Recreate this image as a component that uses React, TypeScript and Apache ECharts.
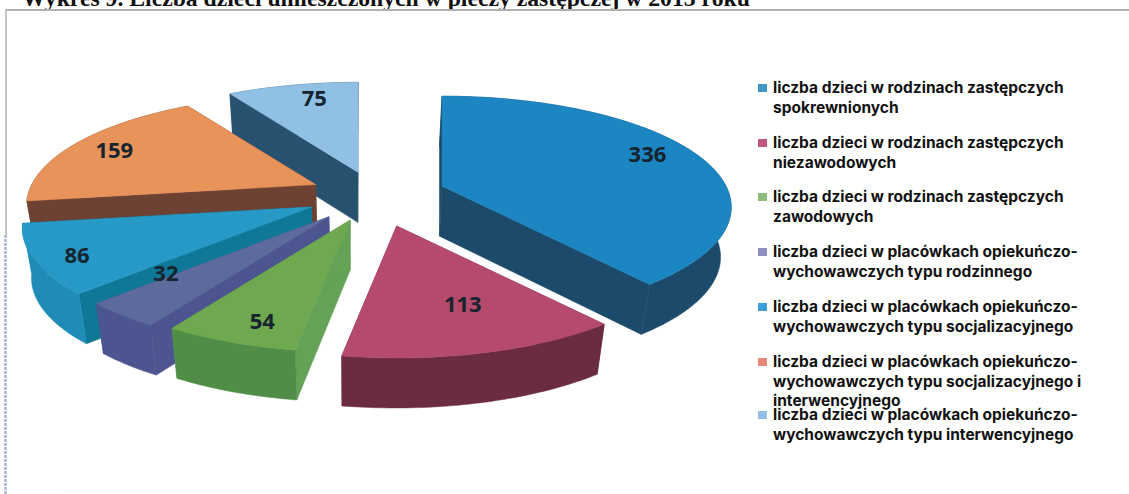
import React, { useEffect, useRef } from "react";
import * as echarts from "echarts";

const titleText = "Wykres 9. Liczba dzieci umieszczonych w pieczy zastępczej w 2013 roku";
const sliceValues = [336, 113, 54, 32, 86, 159, 75];
const sliceLabels = [
  "liczba dzieci w rodzinach zastępczych\nspokrewnionych",
  "liczba dzieci w rodzinach zastępczych\nniezawodowych",
  "liczba dzieci w rodzinach zastępczych\nzawodowych",
  "liczba dzieci w placówkach opiekuńczo-\nwychowawczych typu rodzinnego",
  "liczba dzieci w placówkach opiekuńczo-\nwychowawczych typu socjalizacyjnego",
  "liczba dzieci w placówkach opiekuńczo-\nwychowawczych typu socjalizacyjnego i\ninterwencyjnego",
  "liczba dzieci w placówkach opiekuńczo-\nwychowawczych typu interwencyjnego",
];

// styling of each slice
const topColors = ["#1c86c2", "#b64a6c", "#6fa94f", "#5d6a9c", "#2799c6", "#e8935a", "#90c1e4"];
const sideColors = ["#1c4a6b", "#6b2c40", "#64a257", "#4d5590", "#0f7896", "#6e4232", "#28506f"];
const rimColors = ["#1c4a6b", "#6b2c40", "#508e48", "#4d5590", "#1f8cb8", "#6e4232", "#28506f"];
const swatchColors = ["#3f96c8", "#c0557e", "#8cbf7a", "#8f8fc0", "#3f9fd8", "#e58a78", "#90c0e8"];
const explodeBy = [0.25, 0.3, 0.25, 0.26, 0.25, 0.23, 0.22];
const labelAt = [0.78, 0.68, 0.79, 0.7, 0.85, 0.83, 0.78];
const labelShift = [[6, -7], [10, -3], [3, 8], [-25, -10], [-2, 3], [-1, 0], [9, -5]];
const paintOrder = [6, 5, 4, 3, 2, 1, 0];
const legendTops = [88, 143, 197, 252, 307, 362, 415];

const cx = 375, cy = 195, R = 284, K = 107, P = 0.189, DEPTH = 50;
const VANISH_X = 350, CONVERGE = 0.028;
const total = sliceValues.reduce((a, b) => a + b, 0);

function project(deg: number, r: number, ox: number, oy: number): number[] {
  const t = (deg * Math.PI) / 180;
  const d = 1 + P * r * Math.cos(t);
  return [ox + (R * r * Math.sin(t)) / d, oy - (K * r * Math.cos(t)) / d];
}

const lower = (p: number[]) => [p[0] - CONVERGE * (p[0] - VANISH_X), p[1] + DEPTH];

function renderSlice(params: any, api: any) {
  const i = params.dataIndex;
  const value = api.value(0);
  let before = 0;
  for (let k = 0; k < i; k++) before += sliceValues[k];
  const a0 = (before / total) * 360;
  const a1 = ((before + value) / total) * 360;
  const mid = (a0 + a1) / 2;
  const mt = (mid * Math.PI) / 180;
  const ox = cx + explodeBy[i] * R * Math.sin(mt);
  const oy = cy - explodeBy[i] * K * Math.cos(mt);
  const apex = [ox, oy];
  const apexLow = lower(apex);
  const n = Math.max(4, Math.ceil(a1 - a0));
  const rim: number[][] = [];
  for (let k = 0; k <= n; k++) {
    rim.push(project(a0 + ((a1 - a0) * k) / n, 1, ox, oy));
  }
  const rimLow = rim.map(lower);
  const base = paintOrder[i] * 10;
  const poly = (points: number[][], fill: string, z: number) => ({
    type: "polygon",
    z2: base + z,
    shape: { points },
    style: { fill, stroke: fill, lineWidth: 0.5 },
  });
  const lp = project(mid, labelAt[i], ox, oy);
  return {
    type: "group",
    children: [
      poly([apex, rim[0], rimLow[0], apexLow], sideColors[i], 0),
      poly([apex, rim[n], rimLow[n], apexLow], sideColors[i], 0),
      poly([...rim, ...rimLow.slice().reverse()], rimColors[i], 1),
      poly([apex, ...rim], topColors[i], 2),
      {
        type: "text",
        z2: 500,
        x: lp[0] + labelShift[i][0],
        y: lp[1] + labelShift[i][1],
        style: {
          text: String(value),
          fill: "#15242e",
          font: "bold 22px 'Noto Sans', sans-serif",
          align: "center",
          verticalAlign: "middle",
        },
      },
    ],
  };
}

const LEGEND_FONT = "bold 15.5px Inter, sans-serif";

function legendGraphics() {
  const out: any[] = [];
  sliceLabels.forEach((label, i) => {
    out.push({
      type: "rect",
      shape: { x: 758, y: legendTops[i] - 4, width: 9, height: 8 },
      style: { fill: swatchColors[i] },
    });
    out.push({
      type: "text",
      x: 773,
      y: legendTops[i] - 10,
      style: { text: label, fill: "#111", font: LEGEND_FONT, lineHeight: 19.5, align: "left", verticalAlign: "top" },
    });
  });
  return out;
}

export default function App() {
  const ref = useRef<HTMLDivElement>(null);
  useEffect(() => {
    document.body.style.margin = "0";
    const chart = echarts.init(ref.current!, null, { renderer: "svg" });
    chart.setOption({
      animation: false,
      backgroundColor: "#ffffff",
      graphic: [
        {
          type: "text",
          x: 22,
          y: -14,
          style: { text: titleText, fill: "#111", font: "bold 23.7px 'Liberation Serif', serif" },
        },
        { type: "line", shape: { x1: 5, y1: 10, x2: 1129, y2: 10 }, style: { stroke: "#b0b0b0", lineWidth: 2 } },
        { type: "line", shape: { x1: 6, y1: 10, x2: 6, y2: 235 }, style: { stroke: "#c4c4c4", lineWidth: 2 } },
        { type: "line", shape: { x1: 5.5, y1: 235, x2: 5.5, y2: 494 }, style: { stroke: "#a8b4d4", lineWidth: 2.5, lineDash: [3, 1] } },
        { type: "line", shape: { x1: 60, y1: 491, x2: 600, y2: 491 }, style: { stroke: "#f5f5f5", lineWidth: 1 } },
        ...legendGraphics(),
      ],
      series: [
        {
          type: "custom",
          coordinateSystem: "none",
          data: sliceValues.map((v) => [v]),
          renderItem: renderSlice,
          silent: true,
        },
      ],
    });
    return () => chart.dispose();
  }, []);
  return <div ref={ref} style={{ width: 1129, height: 494 }} />;
}
